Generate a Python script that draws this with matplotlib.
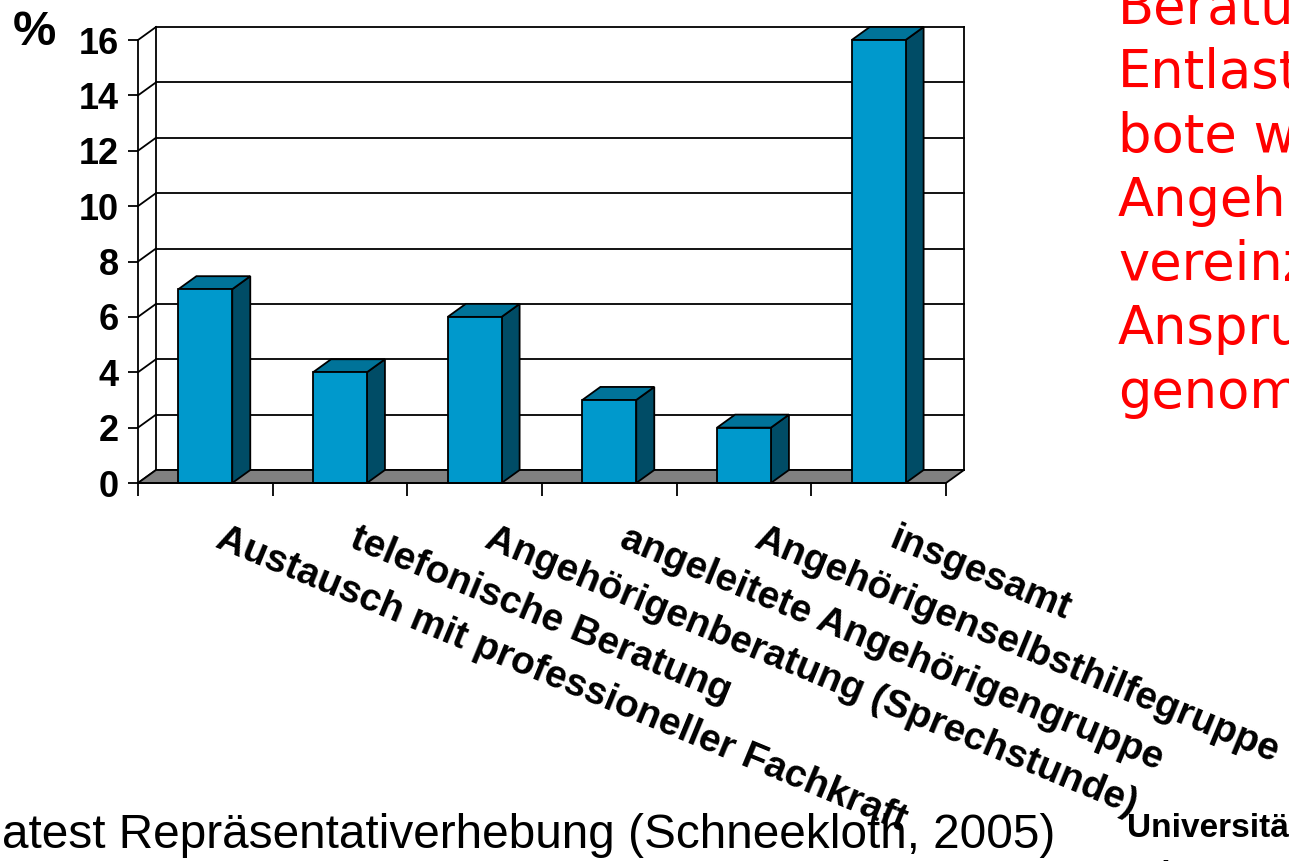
import matplotlib
matplotlib.use("Agg")
import matplotlib.pyplot as plt
from matplotlib.patches import Polygon
import matplotlib.transforms as mtransforms

categories = [
    "Austausch mit professioneller Fachkraft",
    "telefonische Beratung",
    "Angehörigenberatung (Sprechstunde)",
    "angeleitete Angehörigengruppe",
    "Angehörigenselbsthilfegruppe",
    "insgesamt",
]
values = [7, 4, 6, 3, 2, 16]
y_ticks = [0, 2, 4, 6, 8, 10, 12, 14, 16]

# only the visible part of the slide text is shown in the picture
note_lines = ["Beratu", "Entlast", "bote w", "Angeh", "vereinz", "Anspru", "genom"]
source_text = "atest Repräsentativerhebung (Schneekloth, 2005)"
uni_lines = ["Universitä", "Erlangen"]

W, H = 1289, 861
fig = plt.figure(figsize=(W / 100, H / 100), dpi=100)
fig.patch.set_facecolor("white")

# front plane of the 3d box in pixels
x0, x1, y0, y1 = 138, 946, 483, 40
ax = fig.add_axes([x0 / W, 1 - y0 / H, (x1 - x0) / W, (y0 - y1) / H])
n = len(categories)
ax.set_xlim(0, n)
ax.set_ylim(0, 16)
ax.patch.set_visible(False)

# depth of the box, 18 px right and 13 px up
DX = 18 / ((x1 - x0) / n)
DY = 13 / ((y0 - y1) / 16)

lw = 1.3
# back wall gridlines and left wall diagonals
for t in y_ticks:
    ax.plot([DX, n + DX], [t + DY, t + DY], color="black", lw=lw, zorder=1, clip_on=False)
    ax.plot([0, DX], [t, t + DY], color="black", lw=lw, zorder=1, clip_on=False)
ax.plot([DX, DX], [DY, 16 + DY], color="black", lw=lw, zorder=1, clip_on=False)
ax.plot([n + DX, n + DX], [DY, 16 + DY], color="black", lw=lw, zorder=1, clip_on=False)

# floor
floor = Polygon([(0, 0), (n, 0), (n + DX, DY), (DX, DY)], closed=True,
                facecolor="#808080", edgecolor="black", lw=lw, zorder=2, clip_on=False)
ax.add_patch(floor)

# 3d bars
bw = 0.4
for i, v in enumerate(values):
    left = i + 0.5 - bw / 2
    right = left + bw
    side = Polygon([(right, 0), (right + DX, DY), (right + DX, v + DY), (right, v)],
                   closed=True, facecolor="#004C66", edgecolor="black", lw=lw,
                   zorder=3, clip_on=False)
    top = Polygon([(left, v), (right, v), (right + DX, v + DY), (left + DX, v + DY)],
                  closed=True, facecolor="#007399", edgecolor="black", lw=lw,
                  zorder=3, clip_on=False)
    ax.add_patch(side)
    ax.add_patch(top)
    ax.bar(i + 0.5, v, width=bw, color="#0099CC", edgecolor="black", lw=lw,
           zorder=4, clip_on=False)

for s in ["top", "right"]:
    ax.spines[s].set_visible(False)
ax.spines["left"].set_linewidth(lw)
ax.spines["bottom"].set_linewidth(lw)
ax.spines["bottom"].set_zorder(5)

ax.set_yticks(y_ticks)
ax.set_yticklabels([str(t) for t in y_ticks], fontsize=26, fontweight="bold",
                   family="Liberation Sans")
ax.tick_params(axis="y", length=7, width=lw, pad=7)

ax.set_xticks(range(n + 1))
ax.set_xticklabels([])
ax.tick_params(axis="x", which="major", length=9, width=lw)
ax.set_xticks([i + 0.5 for i in range(n)], minor=True)
ax.set_xticklabels(categories, minor=True, rotation=-22.5, rotation_mode="anchor",
                   ha="left", va="top", fontsize=28, fontweight="bold",
                   family="Liberation Sans")
ax.tick_params(axis="x", which="minor", length=0, pad=27)
shift = mtransforms.ScaledTranslation(19 / 100, 0, fig.dpi_scale_trans)
for lab in ax.get_xticklabels(minor=True):
    lab.set_transform(lab.get_transform() + shift)

fig.text(13 / W, 1 - 10 / H, "%", fontsize=35, fontweight="bold",
         family="Liberation Sans", ha="left", va="top")

# red note on the right
for k, line in enumerate(note_lines):
    fig.text(1118 / W, 1 - (24 + 64 * k) / H, line, fontsize=38, color="red",
             family="DejaVu Sans", ha="left", va="baseline")

fig.text(2 / W, 1 - 848 / H, source_text, fontsize=34.4,
         family="Liberation Sans", ha="left", va="baseline")

for k, line in enumerate(uni_lines):
    fig.text(1127 / W, 1 - (837 + 47 * k) / H, line, fontsize=24,
             fontweight="bold", family="Liberation Sans", ha="left", va="baseline")

fig.savefig("out.png", dpi=100)
